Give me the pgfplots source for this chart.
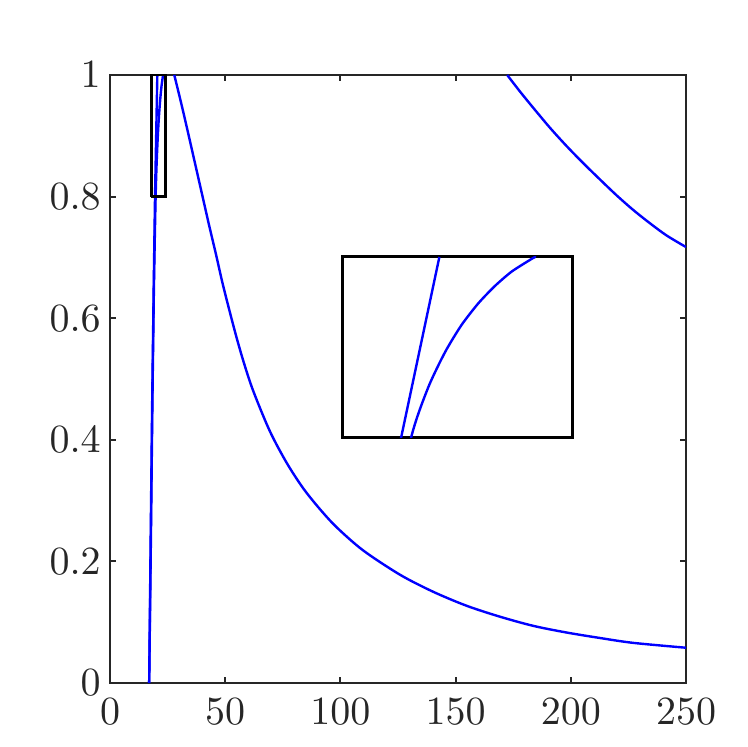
\documentclass[border=0pt]{standalone}
\usepackage{pgfplots}
\pgfplotsset{compat=1.18}

\definecolor{axgray}{RGB}{38,38,38}

% upper-left rising branches (clipped at y=1)
\pgfplotstableread{
x y
17.0 0.0
17.6 0.22
18.3 0.46
19.0 0.66
19.54 0.80
20.54 1.00
}\branchA
\pgfplotstableread{
x y
17.0 0.0
17.7 0.22
18.4 0.46
19.1 0.66
19.80 0.800
20.25 0.856
20.69 0.895
21.12 0.925
21.56 0.949
21.99 0.968
22.43 0.984
22.99 0.999
23.05 1.000
}\branchB
% decaying branch of curve B
\pgfplotstableread{
x y
27.9 1.000
31.0 0.952
34.0 0.903
37.0 0.853
40.0 0.803
43.0 0.753
46.0 0.705
49.2 0.652
54.3 0.577
58.0 0.528
62.2 0.480
69.4 0.414
76.7 0.362
83.9 0.320
91.1 0.286
98.4 0.256
109.9 0.218
125.9 0.178
140.3 0.150
154.8 0.127
169.3 0.109
183.7 0.094
198.2 0.083
212.7 0.074
227.1 0.066
250.0 0.058
}\decayB
% returning branch of curve A
\pgfplotstableread{
x y
172.4 1.000
177.9 0.973
183.7 0.946
191.0 0.913
198.2 0.883
205.4 0.855
212.7 0.828
219.9 0.802
227.1 0.778
234.4 0.756
241.6 0.736
250.0 0.717
}\decayA

\begin{document}
\begin{tikzpicture}
\useasboundingbox (0,0) rectangle (186.75pt,186.75pt);

\begin{axis}[
at={(27.5pt,16pt)}, anchor=south west,
scale only axis,
width=144pt, height=152pt,
xmin=0, xmax=250,
ymin=0, ymax=1,
xtick={0,50,100,150,200,250},
ytick={0,0.2,0.4,0.6,0.8,1},
yticklabel style={/pgf/number format/fixed, xshift=1.2pt},
xticklabel style={yshift=-0.5pt},
tick align=inside,
major tick length=1.5pt,
axis line style={axgray, line width=0.5pt},
tick style={axgray, line width=0.5pt},
ticklabel style={text=axgray, font=\fontsize{10.3}{12}\selectfont},
]
\addplot[blue, line width=0.6pt] table {\branchA};
\addplot[blue, line width=0.6pt, smooth, tension=0.4] table {\branchB};
\addplot[blue, line width=0.6pt, smooth, tension=0.5] table {\decayB};
\addplot[blue, line width=0.6pt, smooth, tension=0.5] table {\decayA};
\addplot[black, line width=0.6pt] coordinates {(18,0.8) (24,0.8) (24,1) (18,1) (18,0.8)};
\end{axis}

\begin{axis}[
at={(85.5pt,77.25pt)}, anchor=south west,
scale only axis,
width=57.5pt, height=45.25pt,
xmin=18, xmax=24,
ymin=0.8, ymax=1,
ticks=none,
axis line style={black, line width=0.75pt},
axis background/.style={fill=white},
]
\addplot[blue, line width=0.6pt] table {\branchA};
\addplot[blue, line width=0.6pt, smooth, tension=0.4] table {\branchB};
\end{axis}
\end{tikzpicture}
\end{document}
